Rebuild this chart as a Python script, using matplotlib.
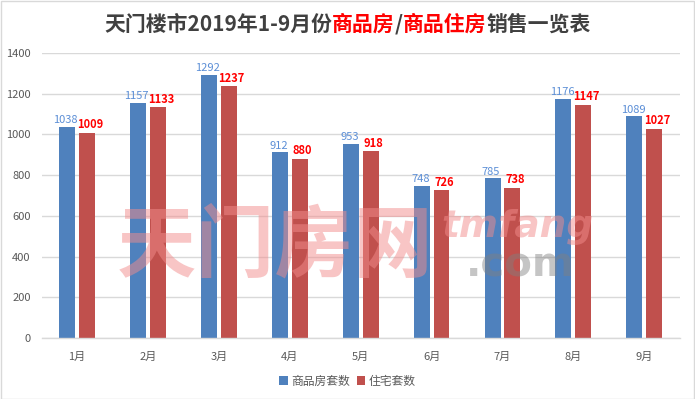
import numpy as np
import matplotlib.pyplot as plt
from matplotlib.offsetbox import TextArea, HPacker, AnchoredOffsetbox
from matplotlib.patches import Rectangle

plt.rcParams['font.family'] = ['Noto Sans CJK SC', 'DejaVu Sans']

# 数据
months = ['1月', '2月', '3月', '4月', '5月', '6月', '7月', '8月', '9月']
spf_sets = [1038, 1157, 1292, 912, 953, 748, 785, 1176, 1089]   # 商品房套数
zz_sets = [1009, 1133, 1237, 880, 918, 726, 738, 1147, 1027]    # 住宅套数
y_ticks = [0, 200, 400, 600, 800, 1000, 1200, 1400]

blue = '#4F81BD'
red = '#C0504D'

fig = plt.figure(figsize=(6.95, 3.99), dpi=100)
ax = fig.add_axes([0.060, 0.153, 0.918, 0.714])

x = np.arange(len(months))
w = 0.225
off = 0.14
ax.bar(x - off, spf_sets, width=w, color=blue, zorder=2, label='商品房套数')
ax.bar(x + off, zz_sets, width=w, color=red, zorder=2, label='住宅套数')

for xi, v in zip(x, spf_sets):
    ax.text(xi - off - 0.02, v + 8, str(v), ha='center', va='bottom',
            fontsize=8, color='#5B8ED6', zorder=4)
for xi, v in zip(x, zz_sets):
    ax.text(xi + off + 0.04, v + 8, str(v), ha='center', va='bottom',
            fontsize=8, color='#FF0000', fontweight='bold', zorder=4)

ax.set_xlim(-0.5, len(months) - 0.5)
ax.set_ylim(0, 1400)
ax.set_yticks(y_ticks)
ax.set_xticks(x)
ax.set_xticklabels(months)
ax.tick_params(axis='both', length=0, labelsize=8, colors='#595959', pad=10)
ax.tick_params(axis='y', pad=8)
ax.grid(axis='y', color='#D9D9D9', linewidth=1, zorder=0)
for s in ['top', 'right', 'left']:
    ax.spines[s].set_visible(False)
ax.spines['bottom'].set_color('#D9D9D9')
ax.spines['bottom'].set_linewidth(1)

# 水印
fig.text(0.395, 0.38, '天门房网', fontsize=57, color='#F28C8C', alpha=0.5,
         ha='center', va='center', zorder=5, fontweight='bold')
fig.text(0.745, 0.43, 'tmfang', fontsize=27, color='#F28C8C', alpha=0.5,
         ha='center', va='center', style='italic', fontweight='bold', zorder=5,
         family='DejaVu Sans')
fig.text(0.748, 0.335, '.com', fontsize=29, color='#808080', alpha=0.45,
         ha='center', va='center', fontweight='bold', zorder=5, family='DejaVu Sans')

# 标题
parts = [('天门楼市2019年1-9月份', '#404040'), ('商品房', '#FF0000'), ('/', '#404040'),
         ('商品住房', '#FF0000'), ('销售一览表', '#404040')]
areas = [TextArea(t, textprops=dict(color=c, fontsize=15, fontweight='bold')) for t, c in parts]
box = HPacker(children=areas, align='baseline', pad=0, sep=0)
anc = AnchoredOffsetbox(loc='center', child=box, frameon=False,
                        bbox_to_anchor=(0.5, 0.94), bbox_transform=fig.transFigure)
fig.add_artist(anc)

ax.legend(loc='center', bbox_to_anchor=(0.5, 0.045), bbox_transform=fig.transFigure,
          ncol=2, frameon=False, fontsize=8.5, handlelength=0.7, handleheight=0.7,
          handletextpad=0.3, columnspacing=0.6, labelcolor='#595959')

fig.patches.append(Rectangle((0.001, 0.001), 0.997, 0.997, transform=fig.transFigure,
                             fill=False, edgecolor='#D9D9D9', linewidth=1))

plt.savefig('out.png', dpi=100)
